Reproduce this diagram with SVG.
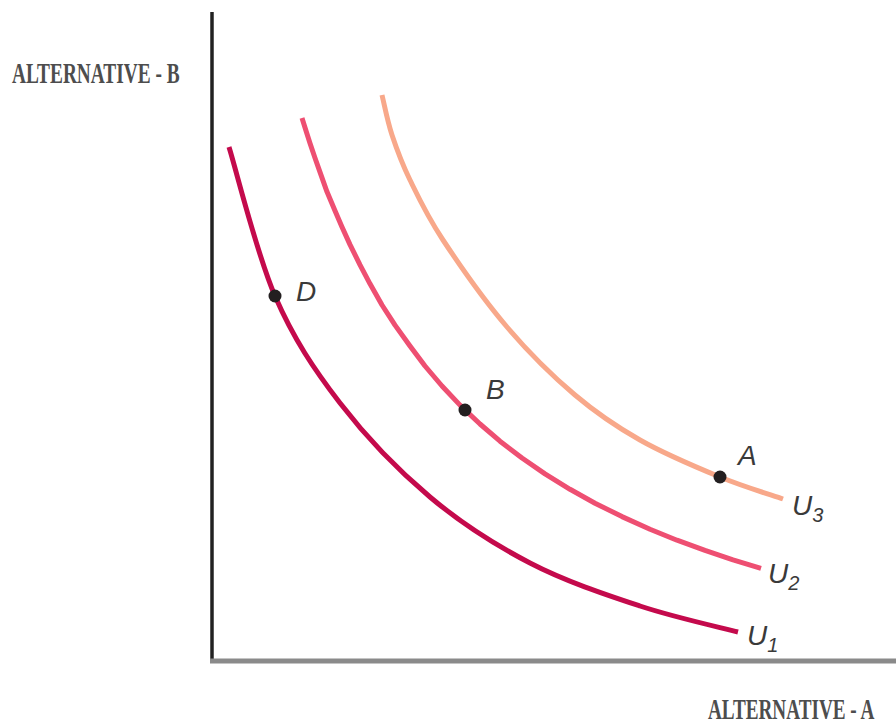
<svg xmlns="http://www.w3.org/2000/svg" width="896" height="727" viewBox="0 0 896 727">
<style>
.title{font-family:"Liberation Serif",serif;font-weight:bold;font-size:30px;fill:#4d4d4d}
.lbl{font-family:"Liberation Sans",sans-serif;font-style:italic;font-size:28px;fill:#3a3a3a}
.sub{font-family:"Liberation Sans",sans-serif;font-style:italic;font-size:20px;fill:#3a3a3a}
.curve{fill:none;stroke-width:5;stroke-linecap:butt;stroke-linejoin:round}
.dot{fill:#231f20}
</style>
<rect width="896" height="727" fill="#ffffff"/>
<g id="axes">
<line x1="212" y1="12" x2="212" y2="662" stroke="#222222" stroke-width="3.5"/>
<line x1="210" y1="661" x2="896" y2="661" stroke="#8a8a8a" stroke-width="5"/>
</g>
<g id="axis-labels">
<text class="title" transform="translate(12,83) scale(0.645,1)" x="0" y="0">ALTERNATIVE - B</text>
<text class="title" transform="translate(708,719) scale(0.64,1)" x="0" y="0">ALTERNATIVE - A</text>
</g>
<g id="connectors">
<path id="U1-curve" class="curve" stroke="#c40a4c" d="M229,147 C236.7,171.8 256.5,253.3 275,296 C293.5,338.7 314.2,369.5 340,403 C365.8,436.5 398.3,470.3 430,497 C461.7,523.7 495,544.8 530,563 C565,581.2 605.3,594.5 640,606 C674.7,617.5 721.7,627.7 738,632"/>
<path id="U2-curve" class="curve" stroke="#ee4f72" d="M302,118 L306,130.8 L310,143.3 L315,158 L320,172.2 L327,191.8 L335,210.8 L342,227 L350,244.6 L360,264.8 L370,283.8 L382,305 L395,325.1 L410,346 L425,366 L442,386 L460,405.1 L480,424 L500,441.2 L522,458 L545,473.9 L570,489.3 L595,503.2 L622,516.6 L650,529.2 L677,540.2 L705,550.4 L733,559.8 L761,568.3"/>
<path id="U3-curve" class="curve" stroke="#f8a88a" d="M382,95 C383.7,101.7 387.3,120.8 392,135 C396.7,149.2 401.5,162.5 410,180 C418.5,197.5 426.8,215.5 443,240 C459.2,264.5 485,301.2 507,327 C529,352.8 552.8,376.2 575,395 C597.2,413.8 615.8,426.3 640,440 C664.2,453.7 696.2,467.2 720,477 C743.8,486.8 772.5,495.3 783,499"/>
</g>
<g id="point-D">
<circle class="dot" cx="275" cy="296" r="6.5"/>
<text class="lbl" x="296" y="301">D</text>
</g>
<g id="point-B">
<circle class="dot" cx="465" cy="410" r="6.5"/>
<text class="lbl" x="486" y="399">B</text>
</g>
<g id="point-A">
<circle class="dot" cx="720" cy="477" r="6.5"/>
<text class="lbl" x="738" y="465">A</text>
</g>
<g id="label-U3">
<text class="lbl" x="792" y="515">U<tspan class="sub" dy="7">3</tspan></text>
</g>
<g id="label-U2">
<text class="lbl" x="768" y="583">U<tspan class="sub" dy="7">2</tspan></text>
</g>
<g id="label-U1">
<text class="lbl" x="747" y="645">U<tspan class="sub" dy="7">1</tspan></text>
</g>
</svg>
